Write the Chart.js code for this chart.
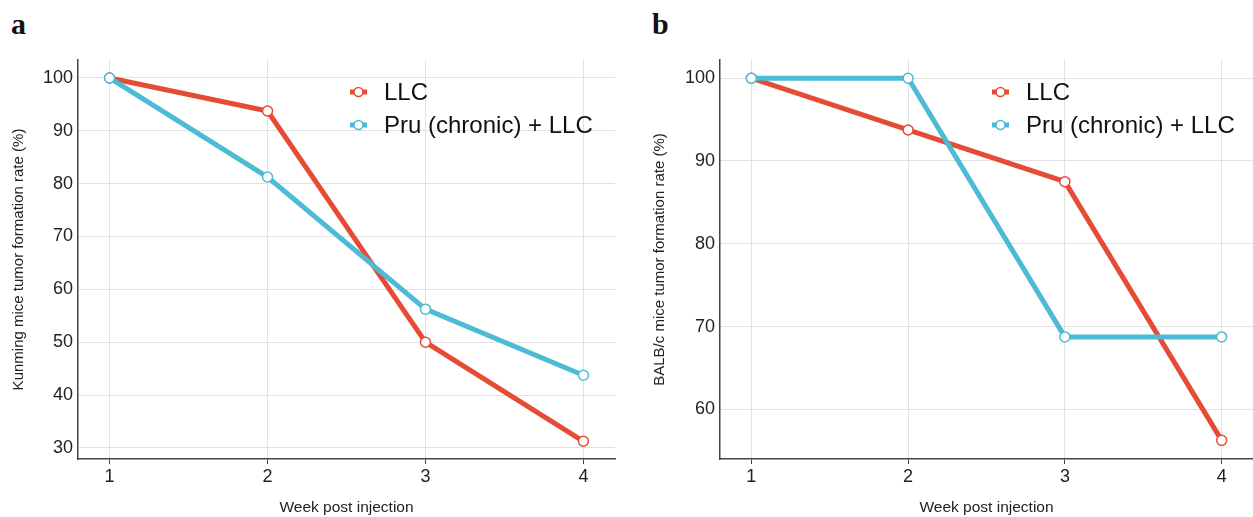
<!DOCTYPE html>
<html>
<head>
<meta charset="utf-8">
<script src="https://cdn.jsdelivr.net/npm/chart.js@4.4.1/dist/chart.umd.min.js"></script>
<style>
  body { margin: 0; background: #fff; width: 1253px; height: 517px; overflow: hidden; position: relative; }
  .panel { position: absolute; top: 0; height: 517px; }
  .tag { position: absolute; top: 7px; font: bold 30px "Liberation Serif", "Times New Roman", serif; color: #111; }
</style>
</head>
<body>
<div class="tag" style="left:11px">a</div>
<div class="tag" style="left:652px">b</div>
<div class="panel" style="left:0;width:626px"><canvas id="chartA" width="626" height="517"></canvas></div>
<div class="panel" style="left:626px;width:627px"><canvas id="chartB" width="627" height="517"></canvas></div>
<script>
// data
const weeks = [1, 2, 3, 4];
const seriesNames = ['LLC', 'Pru (chronic) + LLC'];
const kunmingLLC = [100, 93.75, 50, 31.25];
const kunmingPru = [100, 81.25, 56.25, 43.75];
const balbLLC = [100, 93.75, 87.5, 56.25];
const balbPru = [100, 100, 68.75, 68.75];
const kunmingTicks = [30, 40, 50, 60, 70, 80, 90, 100];
const balbTicks = [60, 70, 80, 90, 100];

const RED = '#E64B35';
const BLUE = '#4DBBD5';
const FONT = '"Liberation Sans", Arial, Helvetica, sans-serif';

// legend drawn inside the plot area, ggplot style
const insideLegend = {
    id: 'insideLegend',
    afterDraw(chart) {
        const { ctx, chartArea } = chart;
        chart.data.datasets.forEach((ds, i) => {
            const x = chartArea.left + 272;
            const y = chartArea.top + 32 + i * 33;
            ctx.save();
            ctx.strokeStyle = ds.borderColor;
            ctx.lineWidth = 5;
            ctx.beginPath();
            ctx.moveTo(x, y);
            ctx.lineTo(x + 17, y);
            ctx.stroke();
            ctx.beginPath();
            ctx.arc(x + 8.5, y, 4.5, 0, Math.PI * 2);
            ctx.fillStyle = '#fff';
            ctx.fill();
            ctx.lineWidth = 1.5;
            ctx.stroke();
            ctx.fillStyle = '#111';
            ctx.font = '24px ' + FONT;
            ctx.textBaseline = 'middle';
            ctx.fillText(ds.label, x + 34, y + 1);
            ctx.restore();
        });
    }
};

function toPoints(values) {
    return values.map((v, i) => ({ x: weeks[i], y: v }));
}

function makeDataset(label, values, color, order) {
    return {
        label: label,
        data: toPoints(values),
        borderColor: color,
        borderWidth: 5,
        pointRadius: 5,
        pointBorderWidth: 1.5,
        pointBackgroundColor: '#fff',
        pointBorderColor: color,
        tension: 0,
        clip: false,
        order: order
    };
}

function renderChart(canvasId, llc, pru, yTicks, yMin, yMax, yTitle, yWidth, yTitlePad, rightPad) {
    const ctx = document.getElementById(canvasId).getContext('2d');
    new Chart(ctx, {
        type: 'line',
        data: {
            datasets: [
                makeDataset(seriesNames[0], llc, RED, 1),
                makeDataset(seriesNames[1], pru, BLUE, 0)
            ]
        },
        options: {
            responsive: false,
            animation: false,
            layout: { autoPadding: false, padding: { top: 60, right: rightPad, left: 0, bottom: 0 } },
            plugins: {
                legend: { display: false },
                tooltip: { enabled: false }
            },
            scales: {
                x: {
                    type: 'linear',
                    min: 0.8,
                    max: 4.2,
                    afterBuildTicks: (s) => { s.ticks = weeks.map(v => ({ value: v })); },
                    afterFit: (s) => { s.height = 58; s.paddingLeft = 0; s.paddingRight = 0; },
                    grid: { color: '#e2e2e2', lineWidth: 1, tickColor: '#444', tickLength: 5 },
                    border: { color: '#444', width: 1.5 },
                    ticks: { color: '#222', font: { family: FONT, size: 18 }, padding: 2 },
                    title: {
                        display: true,
                        text: 'Week post injection',
                        color: '#222',
                        font: { family: FONT, size: 15.5 },
                        padding: { top: 0, bottom: 0 }
                    }
                },
                y: {
                    min: yMin,
                    max: yMax,
                    afterBuildTicks: (s) => { s.ticks = yTicks.map(v => ({ value: v })); },
                    afterFit: (s) => { s.width = yWidth; },
                    grid: { color: '#e2e2e2', lineWidth: 1, drawTicks: false },
                    border: { color: '#444', width: 1.5 },
                    ticks: { color: '#222', font: { family: FONT, size: 18 }, padding: 5 },
                    title: {
                        display: true,
                        text: yTitle,
                        color: '#222',
                        font: { family: FONT, size: 15 },
                        padding: { top: yTitlePad, bottom: 0 }
                    }
                }
            }
        },
        plugins: [insideLegend]
    });
}

renderChart('chartA', kunmingLLC, kunmingPru, kunmingTicks, 27.9, 103.4,
    'Kunming mice tumor formation rate (%)', 78, 10, 11);
renderChart('chartB', balbLLC, balbPru, balbTicks, 54, 102.2,
    'BALB/c mice tumor formation rate (%)', 94, 25, 0);
</script>
</body>
</html>
